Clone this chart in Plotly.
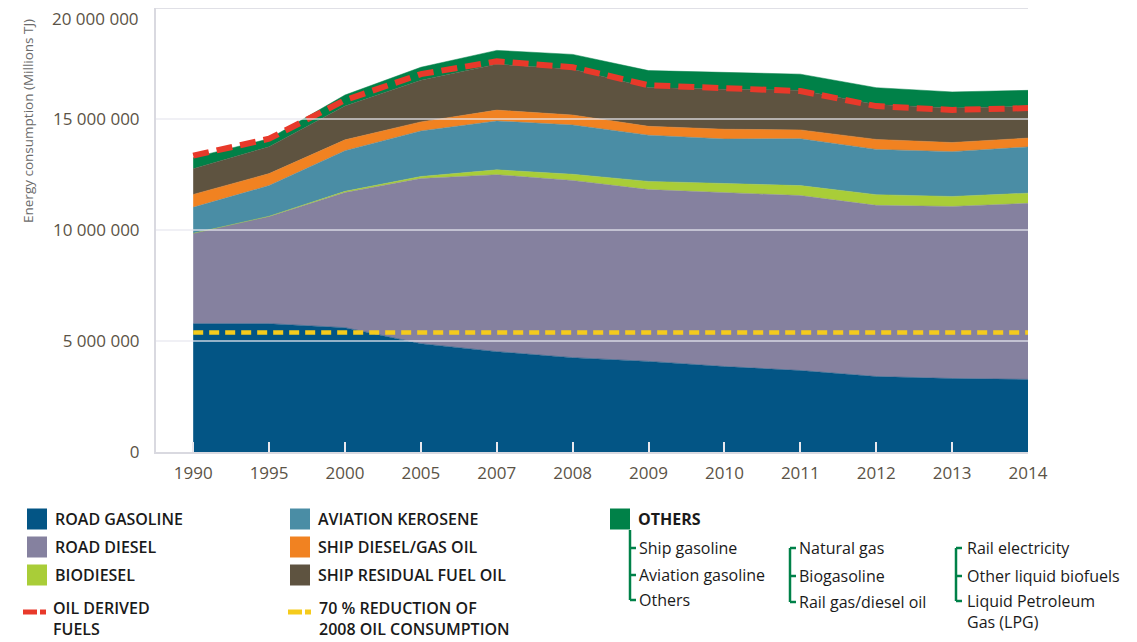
import plotly.graph_objects as go

# ---------------- data ----------------
years = ["1990", "1995", "2000", "2005", "2007", "2008", "2009", "2010", "2011", "2012", "2013", "2014"]

road_gasoline = [5.78e6, 5.78e6, 5.60e6, 4.88e6, 4.52e6, 4.25e6, 4.08e6, 3.85e6, 3.67e6, 3.40e6, 3.31e6, 3.27e6]
road_diesel = [4.07e6, 4.83e6, 6.09e6, 7.44e6, 7.97e6, 7.98e6, 7.74e6, 7.84e6, 7.88e6, 7.71e6, 7.75e6, 7.93e6]
biodiesel = [0.00e6, 0.01e6, 0.05e6, 0.09e6, 0.22e6, 0.28e6, 0.37e6, 0.39e6, 0.45e6, 0.48e6, 0.45e6, 0.46e6]
aviation_kerosene = [1.17e6, 1.38e6, 1.83e6, 2.05e6, 2.20e6, 2.22e6, 2.08e6, 2.02e6, 2.11e6, 2.04e6, 2.02e6, 2.08e6]
ship_diesel = [0.58e6, 0.54e6, 0.49e6, 0.41e6, 0.49e6, 0.45e6, 0.40e6, 0.44e6, 0.40e6, 0.45e6, 0.41e6, 0.40e6]
ship_residual = [1.16e6, 1.21e6, 1.52e6, 1.88e6, 2.07e6, 2.06e6, 1.75e6, 1.80e6, 1.79e6, 1.57e6, 1.56e6, 1.43e6]
others = [0.50e6, 0.36e6, 0.50e6, 0.58e6, 0.62e6, 0.67e6, 0.76e6, 0.76e6, 0.72e6, 0.76e6, 0.72e6, 0.72e6]

oil_derived = [13.35e6, 14.11e6, 15.85e6, 17.02e6, 17.60e6, 17.33e6, 16.52e6, 16.39e6, 16.26e6, 15.58e6, 15.41e6, 15.49e6]
reduction_target = [5.38e6, 5.38e6, 5.38e6, 5.38e6, 5.38e6, 5.38e6, 5.38e6, 5.38e6, 5.38e6, 5.38e6, 5.38e6, 5.38e6]

y_tickvals = [0, 5e6, 10e6, 15e6, 20e6]
y_ticktext = ["0", "5 000 000", "10 000 000", "15 000 000", "20 000 000"]

series_names = ["ROAD GASOLINE", "ROAD DIESEL", "BIODIESEL", "AVIATION KEROSENE",
                "SHIP DIESEL/GAS OIL", "SHIP RESIDUAL FUEL OIL", "OTHERS"]
series_values = [road_gasoline, road_diesel, biodiesel, aviation_kerosene,
                 ship_diesel, ship_residual, others]
series_colors = ["#035585", "#85819F", "#A9CD38", "#4A8DA5", "#F18221", "#5E5340", "#008148"]

line_labels = ["OIL DERIVED<br>FUELS", "70 % REDUCTION OF<br>2008 OIL CONSUMPTION"]

others_groups = [["Ship gasoline", "Aviation gasoline", "Others"],
                 ["Natural gas", "Biogasoline", "Rail gas/diesel oil"],
                 ["Rail electricity", "Other liquid biofuels", "Liquid Petroleum<br>Gas (LPG)"]]

# ---------------- figure ----------------
# page body has an 8px margin: figure is sized so that it fills the window
OFF = 8
W, H = 1137 - OFF, 642 - OFF
# plot area in screen pixels
L, R, T, B = 156, 1028, 8, 452
FONT = "Open Sans"

fig = go.Figure()
for name, vals, col in zip(series_names, series_values, series_colors):
    fig.add_trace(go.Scatter(
        x=years, y=vals, name=name, stackgroup="one", mode="lines",
        line=dict(width=0.5, color=col), fillcolor=col, showlegend=False,
        hoverinfo="x+y+name"))

fig.add_trace(go.Scatter(
    x=years, y=oil_derived, name="OIL DERIVED FUELS", mode="lines",
    line=dict(color="#E8392A", width=6, dash="16px,8px"), showlegend=False))
fig.add_trace(go.Scatter(
    x=years, y=reduction_target, name="70 % REDUCTION OF 2008 OIL CONSUMPTION", mode="lines",
    line=dict(color="#F5CB1C", width=4.5, dash="10px,6px"), showlegend=False))


def px(xs):
    return (xs - L) / (R - L)


def py(ys):
    return (B - ys) / (B - T)


shapes = []
annotations = []

# gridlines above the areas
for v in y_tickvals[1:]:
    top = v == y_tickvals[-1]
    shapes.append(dict(type="line", xref="paper", yref="y", x0=0, x1=1, y0=v, y1=v,
                       layer="above",
                       line=dict(color="#E0E0E6" if top else "rgba(232,232,238,0.85)",
                                 width=2 if top else 1.5)))

# top tick label (placed as annotation, the plot area touches the top edge)
annotations.append(dict(xref="paper", yref="paper", x=px(141), y=py(19),
                        xanchor="right", yanchor="middle", text=y_ticktext[-1],
                        showarrow=False, font=dict(family=FONT, size=17, color="#5b5346")))

# y-axis title
annotations.append(dict(xref="paper", yref="paper", x=px(28), y=py(121),
                        xanchor="center", yanchor="middle",
                        text="Energy consumption (Millions TJ)", textangle=-90,
                        showarrow=False, font=dict(family=FONT, size=13.5, color="#6b6b6b")))

# legend: squares
legend_pos = [(27, 519), (27, 547), (27, 575), (290, 519), (290, 547), (290, 575), (610, 519)]
for (lx, ly), name, col in zip(legend_pos, series_names, series_colors):
    shapes.append(dict(type="rect", xref="paper", yref="paper",
                       x0=px(lx), x1=px(lx + 20), y0=py(ly - 10.5), y1=py(ly + 10.5),
                       fillcolor=col, line=dict(width=0)))
    annotations.append(dict(xref="paper", yref="paper", x=px(lx + 26), y=py(ly),
                            xanchor="left", yanchor="middle", text=name, showarrow=False,
                            font=dict(family=FONT, size=16, color="#1a1a1a",
                                      weight=700 if name == "OTHERS" else 600)))

# legend: dashed lines
for (x0, x1, x2, x3, col, w, label, tx) in [
        (23, 37, 40, 46, "#E8392A", 5, line_labels[0], 51),
        (288, 302, 305, 311, "#F5CB1C", 5, line_labels[1], 317)]:
    for a, b in [(x0, x1), (x2, x3)]:
        shapes.append(dict(type="line", xref="paper", yref="paper",
                           x0=px(a), x1=px(b), y0=py(612), y1=py(612),
                           line=dict(color=col, width=w)))
    annotations.append(dict(xref="paper", yref="paper", x=px(tx), y=py(642),
                            xanchor="left", yanchor="bottom", text=label, showarrow=False,
                            align="left",
                            font=dict(family=FONT, size=16, color="#1a1a1a", weight=600)))

# legend: "others" breakdown brackets
green = "#008148"
bracket_x = [630, 790, 956]
bracket_ys = [[548, 575, 600], [548, 576, 602], [548, 576, 601]]
text_x = [637, 797, 965]
for gi, (bx, ys, tx, items) in enumerate(zip(bracket_x, bracket_ys, text_x, others_groups)):
    ytop = 530 if gi == 0 else ys[0]
    shapes.append(dict(type="line", xref="paper", yref="paper",
                       x0=px(bx), x1=px(bx), y0=py(ytop), y1=py(ys[-1]),
                       line=dict(color=green, width=2.5)))
    for yy, item in zip(ys, items):
        shapes.append(dict(type="line", xref="paper", yref="paper",
                           x0=px(bx), x1=px(bx + 6), y0=py(yy), y1=py(yy),
                           line=dict(color=green, width=2.5)))
        multi = "<br>" in item
        annotations.append(dict(xref="paper", yref="paper", x=px(tx),
                                y=py(yy - 13.5) if multi else py(yy),
                                xanchor="left", yanchor="top" if multi else "middle",
                                text=item, showarrow=False, align="left",
                                font=dict(family=FONT, size=16, color="#1a1a1a")))

fig.update_layout(
    width=W, height=H,
    margin=dict(l=L - OFF, r=W - (R - OFF), t=T - OFF, b=H - (B - OFF), pad=0, autoexpand=False),
    paper_bgcolor="white", plot_bgcolor="white",
    font=dict(family=FONT),
    shapes=shapes, annotations=annotations,
    showlegend=False,
    xaxis=dict(type="category", range=[-0.49, 11], showgrid=False, zeroline=False,
               showline=True, linecolor="#D9D9E0", linewidth=2,
               ticks="inside", ticklen=10, tickwidth=1.5, tickcolor="#E8E8EE",
               layer="above traces", ticklabelstandoff=5,
               tickfont=dict(family=FONT, size=17, color="#5b5346")),
    yaxis=dict(range=[0, 2e7], tickvals=y_tickvals[:-1], ticktext=y_ticktext[:-1],
               showgrid=False, zeroline=False,
               showline=True, linecolor="#D9D9E0", linewidth=2,
               ticks="", ticklabelstandoff=11,
               tickfont=dict(family=FONT, size=17, color="#5b5346")),
)

fig.write_html("out.html")
